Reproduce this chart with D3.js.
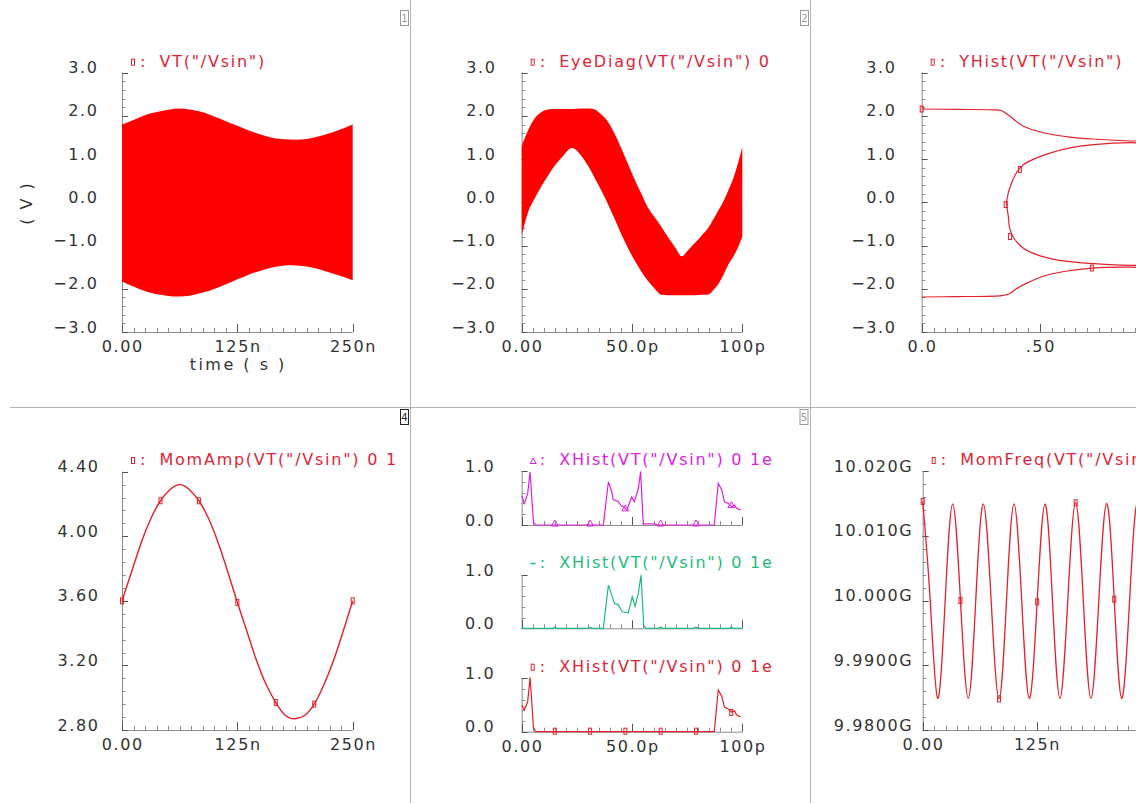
<!DOCTYPE html>
<html><head><meta charset="utf-8">
<script src="https://cdn.jsdelivr.net/npm/d3@7/dist/d3.min.js"></script>
<style>
html,body{margin:0;padding:0;background:#fff;overflow:hidden}
svg{display:block;font-family:"DejaVu Sans",sans-serif}
</style></head><body>
<svg id="c" width="1136" height="803"></svg>
<script>
// ---------------- DATA ----------------
// Panel 1 / 4: time grid (ns)
const timeNs = [0,10.4,20.8,31.3,41.7,52.1,62.5,72.9,83.3,93.8,104.2,114.6,125,135.4,145.8,156.3,166.7,177.1,187.5,197.9,208.3,218.8,229.2,239.6,250];
// Panel 1: VT envelope (V)
const vtUpper = [1.80,1.89,1.98,2.06,2.11,2.15,2.17,2.15,2.11,2.04,1.95,1.86,1.77,1.68,1.60,1.53,1.48,1.46,1.45,1.46,1.50,1.56,1.63,1.71,1.80];
const vtLower = [-1.83,-1.93,-2.02,-2.09,-2.14,-2.17,-2.18,-2.16,-2.11,-2.05,-1.97,-1.88,-1.78,-1.69,-1.61,-1.54,-1.49,-1.46,-1.46,-1.48,-1.52,-1.58,-1.65,-1.72,-1.80];
// Panel 2: eye diagram band (ps, V)
const eyeT     = [0,3,6,9,12,15,18,22.9,27,30,32.5,35,38,42,45,48,51,54,57,60,63.5,66.5,69.5,72.5,75.5,78.5,81.5,84.6,87,89,91,93.7,96,98,100];
const eyeUpper = [1.30,1.68,1.95,2.09,2.15,2.16,2.16,2.16,2.17,2.17,2.16,2.08,1.94,1.60,1.27,0.91,0.55,0.22,-0.10,-0.33,-0.58,-0.82,-1.04,-1.25,-1.10,-0.94,-0.77,-0.59,-0.38,-0.20,-0.02,0.28,0.57,0.90,1.28];
const eyeLower = [-0.75,-0.21,0.10,0.38,0.62,0.85,1.03,1.26,1.08,0.85,0.62,0.38,0.08,-0.37,-0.72,-1.04,-1.33,-1.58,-1.80,-1.98,-2.14,-2.15,-2.15,-2.15,-2.15,-2.15,-2.14,-2.13,-2.02,-1.90,-1.72,-1.44,-1.25,-1.05,-0.79];
// Panel 3: YHist trace (probability, V)
const yhistP = [0,0.148,0.30,0.338,0.373,0.43,0.514,0.627,0.74,0.885,1.0, 1.0,0.885,0.74,0.627,0.542,0.486,0.43,0.40,0.38,0.366,0.359,0.366,0.373,0.394,0.43,0.486,0.57,0.683,0.796,0.885,1.0, 1.0,0.885,0.719,0.60,0.514,0.444,0.394,0.373,0.338,0.148,0];
const yhistV = [2.16,2.15,2.14,2.12,1.99,1.76,1.61,1.51,1.46,1.42,1.41, 1.37,1.38,1.34,1.26,1.14,1.03,0.87,0.68,0.45,0.22,-0.01,-0.32,-0.63,-0.86,-1.06,-1.21,-1.33,-1.40,-1.44,-1.46,-1.47, -1.51,-1.50,-1.52,-1.60,-1.71,-1.87,-2.02,-2.11,-2.16,-2.18,-2.19];
const yhistMarkP = [0,0.719,0.415,0.355,0.373];
const yhistMarkV = [2.16,-1.52,0.76,-0.05,-0.79];
// Panel 4: MomAmp (V)
const momAmp = [3.60,3.78,3.96,4.11,4.22,4.29,4.32,4.29,4.22,4.11,3.96,3.78,3.59,3.41,3.23,3.08,2.97,2.89,2.87,2.89,2.96,3.08,3.23,3.41,3.60];
const momAmpMarkIdx = [0,4,8,12,16,20,24];
// Panel 5: XHist traces (ps, normalised)
const xhAllT = [0,1.2,2.7,3.8,5.3,6.3,37,39.3,40.8,41.5,43.8,45,46.1,47.6,49.9,51.1,52.9,53.9,55.1,60,62,87.3,89.1,90.7,91.9,93.7,95.2,96.4,97.5,99.2];
const xhAllV = [0.54,0.40,0.58,0.98,0.06,0,0,0.80,0.62,0.47,0.43,0.36,0.34,0.28,0.52,0.43,0.68,0.99,0.02,0.02,0,0,0.77,0.65,0.43,0.40,0.34,0.37,0.31,0.28];
const xhMidT = [0,14,15,16,30,31,32,37,39.3,41.1,42,43.8,45.6,48.3,50.1,51.4,52.9,54.1,55.3,56.2,62,63,64,78,79,80,94,95,96,100];
const xhMidV = [0,0,0.02,0,0,0.02,0,0,0.81,0.59,0.47,0.44,0.31,0.29,0.59,0.41,0.66,1.0,0.06,0,0,0.02,0,0,0.02,0,0,0.02,0,0];
const xhEdgeT = [0,1.2,2.7,3.8,5.3,6.3,87.3,89.1,90.7,91.9,93.7,95.2,96.4,97.5,99.2];
const xhEdgeV = [0.50,0.41,0.56,1.02,0.09,0,0,0.78,0.66,0.46,0.42,0.37,0.39,0.31,0.28];
const xhMarkT = [15,31,47,63,79,95];
const xhAllMarkV = [0,0,0.28,0,0,0.34];
const xhEdgeMarkV = [0,0,0,0,0,0.35];
// Panel 6: MomFreq (ns, GHz)
const momFreqT = [0,8.2,16.4,24.6,32.9,41.4,50.0,58.2,66.5,75.1,83.7,91.9,100.1,108.5,116.9,125.5,134.1,142.3,150.5,159.1,167.7,176.1,184.5,193.1,201.7,210.0,218.2,226.8,235.3,242.6,250];
const momFreqG = [10.0153,10.0001,9.9849,9.9999,10.0149,10.0000,9.9849,10.0001,10.0149,9.9999,9.9848,10.0000,10.0149,10.0001,9.9849,9.9998,10.0149,10.0000,9.9849,10.0001,10.0151,10.0000,9.9849,10.0000,10.0150,10.0002,9.9849,9.9999,10.0149,10.0000,9.9852];
const momFreqMarkIdx = [0,5,10,15,20,25];

// Tick labels
const vTicks = [3,2,1,0,-1,-2,-3];
const vLabels = ["3.0","2.0","1.0","0.0","\u22121.0","\u22122.0","\u22123.0"];
const timeTicks = [0,125,250];
const timeLabels = ["0.00","125n","250n"];
const psTicks = [0,50,100];
const psLabels = ["0.00","50.0p","100p"];
const probTicks = [0,0.5];
const probLabels = ["0.0",".50"];
const ampTicks = [4.4,4.0,3.6,3.2,2.8];
const ampLabels = ["4.40","4.00","3.60","3.20","2.80"];
const histTicks = [1,0];
const histLabels = ["1.0","0.0"];
const freqTicks = [10.02,10.01,10.00,9.99,9.98];
const freqLabels = ["10.020G","10.010G","10.000G","9.9900G","9.9800G"];
const freqTimeTicks = [0,125];
const freqTimeLabels = ["0.00","125n"];

// Titles
const titles = {
  p1:'VT("/Vsin")', p2:'EyeDiag(VT("/Vsin") 0', p3:'YHist(VT("/Vsin")',
  p4:'MomAmp(VT("/Vsin") 0 1', p5:'XHist(VT("/Vsin") 0 1e', p6:'MomFreq(VT("/Vsin") 0 1'
};

// ---------------- DRAWING ----------------
const RED = "#ff0000", LRED = "#e3202c", TRED = "#dc2638", MAG = "#dd22dd", GRN = "#1fbb7c";
const AX = "#8c8c8c", TK = "#555", LBL = "#333";
const svg = d3.select("#c");

// dividers
svg.append("line").attr("x1",410.5).attr("x2",410.5).attr("y1",0).attr("y2",803).attr("stroke","#b4b4b4");
svg.append("line").attr("x1",810.5).attr("x2",810.5).attr("y1",0).attr("y2",803).attr("stroke","#b4b4b4");
svg.append("line").attr("x1",10).attr("x2",1136).attr("y1",407.5).attr("y2",407.5).attr("stroke","#b4b4b4");

// panel number boxes
[[400,10,"1","#999"],[800,10,"2","#999"],[400,409,"4","#222"],[799.5,409,"5","#999"]].forEach(b=>{
  svg.append("rect").attr("x",b[0]+0.5).attr("y",b[1]+0.5).attr("width",8).attr("height",15).attr("fill","#fff").attr("stroke",b[3]);
  svg.append("text").attr("x",b[0]+4.5).attr("y",b[1]+12).attr("text-anchor","middle").attr("font-size",10).attr("fill",b[3]).text(b[2]);
});

function label(x,y,t,anchor,ls,size,col){
  const sh = anchor==="end"?ls:(anchor==="middle"?ls/2:0);
  return svg.append("text").attr("x",x+sh).attr("y",y).attr("text-anchor",anchor)
    .attr("font-size",size||16).attr("letter-spacing",ls).attr("fill",col||LBL).text(t);
}

function axes(o){
  const {x,y} = o;
  const x0 = x.range()[0], x1 = x.range()[1];
  const yT = y.range()[1], yB = y.range()[0];
  const g = svg.append("g");
  g.append("line").attr("x1",x0+0.5).attr("x2",x0+0.5).attr("y1",yT).attr("y2",yB).attr("stroke",AX);
  g.append("line").attr("x1",x0).attr("x2",x1).attr("y1",yB+0.5).attr("y2",yB+0.5).attr("stroke",AX);
  const yd = y.domain();
  d3.range(yd[0], yd[1]+o.yStep/2, o.yStep).forEach(v=>{
    g.append("line").attr("x1",x0).attr("x2",x0+3.5).attr("y1",Math.round(y(v))+0.5).attr("y2",Math.round(y(v))+0.5).attr("stroke",AX);
  });
  o.yTicks.forEach(v=>{
    g.append("line").attr("x1",x0).attr("x2",x0+6).attr("y1",Math.round(y(v))+0.5).attr("y2",Math.round(y(v))+0.5).attr("stroke",TK);
  });
  const xd = x.domain();
  d3.range(xd[0], xd[1]+o.xStep/2, o.xStep).forEach(v=>{
    g.append("line").attr("x1",Math.round(x(v))+0.5).attr("x2",Math.round(x(v))+0.5).attr("y1",yB).attr("y2",yB-4).attr("stroke",AX);
  });
  o.xTicks.forEach(v=>{
    g.append("line").attr("x1",Math.round(x(v))+0.5).attr("x2",Math.round(x(v))+0.5).attr("y1",yB).attr("y2",yB-8).attr("stroke",TK);
  });
  o.yTicks.forEach((v,i)=>{ if(o.yLabels[i]!=null) label(x0-o.yGap, y(v)+0.5, o.yLabels[i], "end", 1.6); });
  if(o.xLabels) o.xLabels.forEach((t,i)=> label(x(o.xTicks[i]), yB+20, t, "middle", 1.6));
}

function title(x0, yBase, text, col, marker){
  if(marker==="rect") svg.append("rect").attr("x",x0+9.5).attr("y",yBase-7.5).attr("width",3).attr("height",6).attr("fill","none").attr("stroke",col);
  if(marker==="tri") svg.append("path").attr("d",`M${x0+8.5},${yBase-1.5}L${x0+14.5},${yBase-1.5}L${x0+11.5},${yBase-7}Z`).attr("fill","none").attr("stroke",col);
  if(marker==="dash") svg.append("line").attr("x1",x0+8.5).attr("x2",x0+14).attr("y1",yBase-4.5).attr("y2",yBase-4.5).attr("stroke",col).attr("stroke-width",1.5);
  label(x0+18, yBase, ":", "start", 1.75, 16, col);
  label(x0+37.5, yBase, text, "start", 1.75, 16, col);
}

function rectMarks(pts, col){
  pts.forEach(p=> svg.append("rect").attr("x",p[0]-1.5).attr("y",p[1]-3).attr("width",3).attr("height",6).attr("fill","none").attr("stroke",col));
}

// ---- Panel 1 ----
{
  const x = d3.scaleLinear().domain([0,250]).range([122,352.7]);
  const y = d3.scaleLinear().domain([-3,3]).range([332,72.7]);
  axes({x,y,yStep:0.2,yTicks:vTicks,yLabels:vLabels,yGap:25,xStep:12.5,xTicks:timeTicks,xLabels:timeLabels});
  const area = d3.area().x((d,i)=>x(timeNs[i])).y0((d,i)=>y(vtLower[i])).y1((d,i)=>y(vtUpper[i])).curve(d3.curveNatural);
  svg.append("path").attr("d",area(timeNs)).attr("fill",RED);
  title(122, 66.7, titles.p1, TRED, "rect");
  label(237, 370, "time ( s )", "middle", 2.5);
  svg.append("text").attr("transform","translate(32,203) rotate(-90)").attr("text-anchor","middle")
    .attr("font-size",16).attr("letter-spacing",2).attr("fill",LBL).text("( V )");
}
// ---- Panel 2 ----
{
  const x = d3.scaleLinear().domain([0,100]).range([521.7,742.3]);
  const y = d3.scaleLinear().domain([-3,3]).range([332,72.7]);
  axes({x,y,yStep:0.2,yTicks:vTicks,yLabels:vLabels,yGap:26.7,xStep:5,xTicks:psTicks,xLabels:psLabels});
  const area = d3.area().x((d,i)=>x(eyeT[i])).y0((d,i)=>y(eyeLower[i])).y1((d,i)=>y(eyeUpper[i])).curve(d3.curveMonotoneX);
  svg.append("path").attr("d",area(eyeT)).attr("fill",RED);
  title(521.7, 66.7, titles.p2, TRED, "rect");
}
// ---- Panel 3 ----
{
  const x = d3.scaleLinear().domain([0,1]).range([921.7,1158.3]);
  const y = d3.scaleLinear().domain([-3,3]).range([332,72.7]);
  axes({x,y,yStep:0.2,yTicks:vTicks,yLabels:vLabels,yGap:26.7,xStep:0.05,xTicks:probTicks,xLabels:probLabels});
  const line = d3.line().x((d,i)=>x(yhistP[i])).y((d,i)=>y(yhistV[i])).curve(d3.curveCatmullRom);
  svg.append("path").attr("d",line(yhistP)).attr("fill","none").attr("stroke",LRED).attr("stroke-width",1.2);
  rectMarks(yhistMarkP.map((p,i)=>[x(p),y(yhistMarkV[i])]), LRED);
  title(921.7, 66.7, titles.p3, TRED, "rect");
}
// ---- Panel 4 ----
{
  const x = d3.scaleLinear().domain([0,250]).range([122,352.7]);
  const y = d3.scaleLinear().domain([2.8,4.4]).range([730,471.7]);
  axes({x,y,yStep:0.08,yTicks:ampTicks,yLabels:ampLabels,yGap:24,xStep:12.5,xTicks:timeTicks,xLabels:timeLabels});
  const line = d3.line().x((d,i)=>x(timeNs[i])).y((d,i)=>y(momAmp[i])).curve(d3.curveNatural);
  svg.append("path").attr("d",line(momAmp)).attr("fill","none").attr("stroke",LRED).attr("stroke-width",1.4);
  rectMarks(momAmpMarkIdx.map(i=>[x(timeNs[i]),y(momAmp[i])]), LRED);
  title(122, 465, titles.p4, TRED, "rect");
}
// ---- Panel 5 ----
{
  const x = d3.scaleLinear().domain([0,100]).range([521.7,742.3]);
  const subs = [
    {yT:471, yB:525, T:xhAllT, V:xhAllV, col:MAG, mk:"tri", mv:xhAllMarkV, lab:false, tb:465},
    {yT:575, yB:628.3, T:xhMidT, V:xhMidV, col:GRN, mk:"dash", mv:null, lab:false, tb:568},
    {yT:678.3, yB:731.7, T:xhEdgeT, V:xhEdgeV, col:LRED, mk:"rect", mv:xhEdgeMarkV, lab:true, tb:671.7}
  ];
  subs.forEach(s=>{
    const y = d3.scaleLinear().domain([0,1]).range([s.yB,s.yT]);
    axes({x,y,yStep:0.2,yTicks:histTicks,yLabels:histLabels,yGap:28,xStep:5,xTicks:psTicks,xLabels:s.lab?psLabels:null});
    const line = d3.line().x((d,i)=>x(s.T[i])).y((d,i)=>y(s.V[i]));
    svg.append("path").attr("d",line(s.T)).attr("fill","none").attr("stroke",s.col).attr("stroke-width",1.2);
    if(s.mv){
      xhMarkT.forEach((t,i)=>{
        const px=x(t), py=y(s.mv[i]);
        if(s.mk==="tri") svg.append("path").attr("d",`M${px-3.5},${py+1}L${px+3.5},${py+1}L${px},${py-5}Z`).attr("fill","none").attr("stroke",s.col);
        else svg.append("rect").attr("x",px-1.5).attr("y",py-3.5).attr("width",3).attr("height",6).attr("fill","none").attr("stroke",s.col);
      });
    }
    title(521.7, s.tb, titles.p5, s.col===LRED?TRED:s.col, s.mk);
  });
}
// ---- Panel 6 ----
{
  const x = d3.scaleLinear().domain([0,250]).range([922.7,1150.7]);
  const y = d3.scaleLinear().domain([9.98,10.02]).range([730,471]);
  axes({x,y,yStep:0.002,yTicks:freqTicks,yLabels:freqLabels,yGap:11,xStep:12.5,xTicks:freqTimeTicks,xLabels:freqTimeLabels});
  const line = d3.line().x((d,i)=>x(momFreqT[i])).y((d,i)=>y(momFreqG[i])).curve(d3.curveNatural);
  svg.append("path").attr("d",line(momFreqG)).attr("fill","none").attr("stroke",LRED).attr("stroke-width",1.3);
  rectMarks(momFreqMarkIdx.map(i=>[x(momFreqT[i]),y(momFreqG[i])]), LRED);
  title(922.7, 465, titles.p6, TRED, "rect");
}
</script>
</body></html>
